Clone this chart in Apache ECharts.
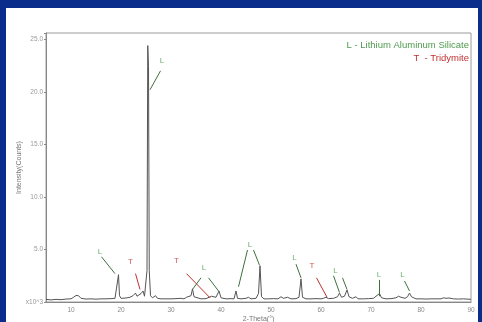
<!DOCTYPE html>
<html>
<head>
<meta charset="utf-8">
<script src="https://cdn.jsdelivr.net/npm/echarts@6/dist/echarts.min.js"></script>
<style>
html,body{margin:0;padding:0;background:#0a2c8a;}
#c{width:482px;height:322px;}
</style>
</head>
<body>
<div id="c"></div>
<script>
// 2-Theta positions (degrees)
var twoTheta = [5.0,6.0,7.0,8.0,9.0,10.0,10.5,11.0,11.5,12.0,13.0,14.0,15.0,16.0,17.0,18.0,18.8,19.2,19.5,19.7,20.0,21.0,21.8,22.4,22.9,23.2,23.6,24.0,24.4,24.7,25.0,25.2,25.35,25.5,25.65,25.9,26.3,26.9,27.3,28.0,29.0,30.0,31.0,32.0,32.6,33.1,33.5,34.0,34.3,34.6,35.0,36.0,37.0,37.6,38.1,38.5,39.0,39.6,40.0,41.0,42.0,42.6,43.0,43.3,44.0,45.0,45.5,46.0,47.0,47.5,47.8,48.1,48.6,49.5,50.5,51.4,52.0,52.5,53.3,54.0,55.0,55.6,56.0,56.3,57.0,58.0,59.0,60.0,60.5,61.0,61.5,62.5,63.3,63.7,64.1,64.7,65.2,65.6,66.3,67.0,67.4,68.5,69.5,70.5,71.0,71.3,71.7,72.1,73.0,74.0,75.0,75.5,76.0,76.8,77.3,77.7,78.1,79.0,80.0,81.0,82.0,83.0,84.0,84.5,85.0,85.6,86.5,87.5,88.5,90.0];
// Intensity (x10^3 counts)
var counts = [0.25,0.2,0.25,0.22,0.28,0.3,0.45,0.62,0.6,0.35,0.28,0.3,0.27,0.3,0.3,0.32,0.35,0.5,2.6,0.6,0.35,0.38,0.45,0.6,0.85,0.55,0.6,0.8,1.05,0.55,0.6,3.0,24.4,22.4,3.0,0.6,0.4,0.6,0.35,0.3,0.3,0.3,0.32,0.35,0.3,0.45,0.35,0.6,1.25,0.5,0.35,0.3,0.32,0.45,0.55,0.4,0.45,1.05,0.4,0.3,0.32,0.3,1.05,0.35,0.3,0.35,0.45,0.3,0.35,0.8,3.45,0.5,0.3,0.3,0.32,0.3,0.5,0.35,0.45,0.3,0.32,0.45,2.2,0.45,0.3,0.3,0.32,0.3,0.35,0.45,0.32,0.35,0.5,0.85,0.45,0.55,1.15,0.5,0.35,0.5,0.3,0.3,0.32,0.35,0.55,0.45,0.8,0.4,0.3,0.32,0.4,0.55,0.45,0.35,0.5,0.85,0.5,0.3,0.3,0.28,0.3,0.3,0.3,0.4,0.35,0.38,0.3,0.28,0.3,0.25];
// Y tick values and labels
var yTicks = [0,5,10,15,20,25];
var yTickLabels = ['x10^3','5.0','10.0','15.0','20.0','25.0'];
// Phase annotation letters: [2theta, intensity, letter]
var annotLetters = [
  [28.2,23.0,'L'],[15.8,4.8,'L'],[21.9,3.8,'T'],[31.1,3.9,'T'],[36.6,3.3,'L'],
  [45.8,5.4,'L'],[54.7,4.2,'L'],[58.2,3.4,'T'],[62.9,3.0,'L'],[71.6,2.55,'L'],[76.3,2.55,'L']
];
// Leader lines: [x1,y1,x2,y2,letter]
var leaders = [
  [27.9,22.0,25.8,20.2,'L'],[16.1,4.3,18.8,2.7,'L'],[22.9,2.7,23.8,1.2,'T'],
  [33.1,2.7,37.8,0.4,'T'],[36.0,2.3,34.3,1.2,'L'],[37.5,2.3,39.5,1.05,'L'],
  [45.3,4.95,43.5,1.45,'L'],[46.5,4.95,47.7,3.5,'L'],[55.0,3.6,56.0,2.3,'L'],
  [59.1,2.3,61.2,0.45,'T'],[62.5,2.5,63.7,0.9,'L'],[64.3,2.3,65.2,1.2,'L'],
  [71.7,2.1,71.7,0.55,'L'],[76.7,2.0,77.7,1.05,'L']
];
var legendLines = ['L - Lithium Aluminum Silicate','T  - Tridymite'];

var GREEN = '#4f9a4f', RED = '#c23030', LINEG = '#3f6f3f';

var chart = echarts.init(document.getElementById('c'), null, {renderer:'canvas'});
var seriesData = twoTheta.map(function(t,i){return [t,counts[i]];});
var mlData = leaders.map(function(l){
  var col = l[4]==='T'?RED:LINEG;
  return [{coord:[l[0],l[1]], lineStyle:{color:col}},{coord:[l[2],l[3]]}];
});
var letterData = annotLetters.map(function(a){
  return {value:[a[0],a[1]], label:{color:a[2]==='T'?RED:GREEN}, name:a[2]};
});
chart.setOption({
  backgroundColor:'#0a2c8a',
  animation:false,
  graphic:[
    {type:'rect', z:-10, shape:{x:6,y:8,width:472,height:314}, style:{fill:'#ffffff'}},
    {type:'text', right:13, top:40, z:10, style:{text:legendLines[0], fill:GREEN, font:'9.5px "Liberation Sans", Arial, sans-serif', textAlign:'right'}},
    {type:'text', right:13, top:53, z:10, style:{text:legendLines[1], fill:RED, font:'9.5px "Liberation Sans", Arial, sans-serif', textAlign:'right'}}
  ],
  grid:{left:46,right:11,top:33,bottom:20,show:true,borderColor:'#9a9a9a',borderWidth:1,backgroundColor:'#fff',
        containLabel:false, outerBoundsMode:'none'},
  xAxis:{
    type:'value', min:5, max:90, interval:5,
    name:'2-Theta(°)', nameLocation:'middle', nameGap:14, nameMoveOverlap:false,
    nameTextStyle:{fontSize:7,color:'#777',fontFamily:'Liberation Sans'},
    axisLine:{lineStyle:{color:'#888'}},
    axisTick:{show:false},
    splitLine:{show:false},
    axisLabel:{fontSize:6.5,color:'#888',margin:5,fontFamily:'Liberation Sans',
      formatter:function(v){return (Math.round(v)%10===0 && v>5)?String(v):'';}}
  },
  yAxis:{
    type:'value', min:0, max:25.6, interval:5,
    name:'Intensity(Counts)', nameLocation:'middle', nameGap:23, nameMoveOverlap:false,
    nameTextStyle:{fontSize:7,color:'#777',fontFamily:'Liberation Sans'},
    axisLine:{show:true,lineStyle:{color:'#888'}},
    axisTick:{show:true,length:2,lineStyle:{color:'#888'}},
    splitLine:{show:false},
    axisLabel:{fontSize:6.5,color:'#999',margin:3,fontFamily:'Liberation Sans',
      formatter:function(v){var i=yTicks.indexOf(v);return i>=0?yTickLabels[i]:'';}}
  },
  series:[
    {type:'line', data:seriesData, symbol:'none', lineStyle:{color:'#555',width:1}, z:3,
     markLine:{silent:true, symbol:'none', animation:false, label:{show:false},
       lineStyle:{type:'solid',width:1}, data:mlData}},
    {type:'scatter', data:letterData, symbolSize:0, z:5,
     label:{show:true, position:'inside', formatter:function(p){return p.name;}, fontSize:8, fontFamily:'Liberation Sans'}}
  ]
});
</script>
</body>
</html>
